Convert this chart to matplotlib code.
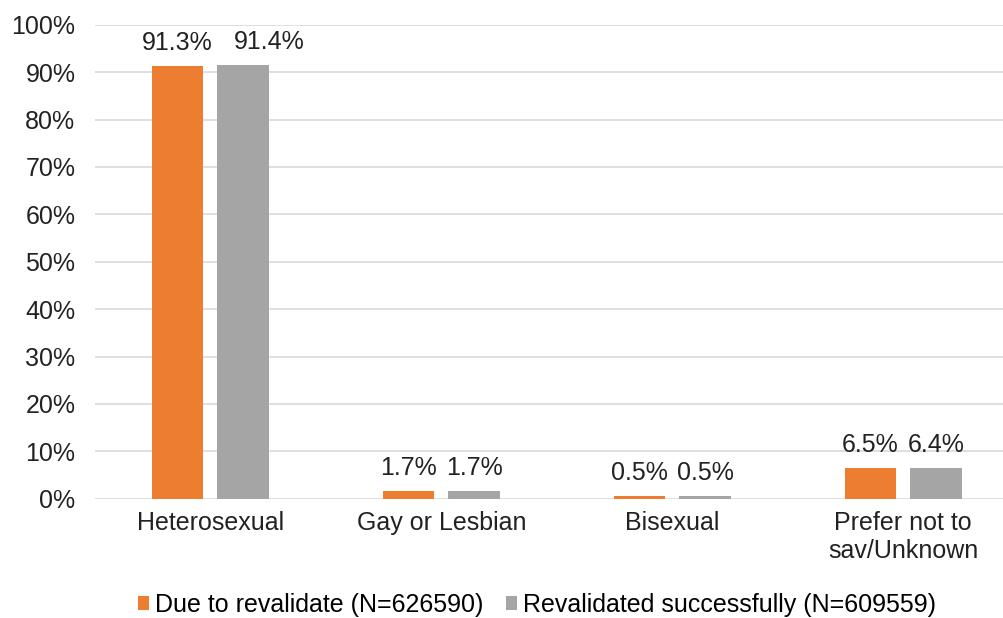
import matplotlib.pyplot as plt
import numpy as np

plt.rcParams['font.family'] = ['Liberation Sans', 'DejaVu Sans']

categories = ['Heterosexual', 'Gay or Lesbian', 'Bisexual', 'Prefer not to\nsav/Unknown']
due = [91.3, 1.7, 0.5, 6.5]
revalidated = [91.4, 1.7, 0.5, 6.4]
series_names = ['Due to revalidate (N=626590)', 'Revalidated successfully (N=609559)']
yticks = [0, 10, 20, 30, 40, 50, 60, 70, 80, 90, 100]

orange = '#ED7D31'
grey = '#A5A5A5'
fs = 18

fig = plt.figure(figsize=(10.04, 6.18), dpi=100)
ax = fig.add_axes([0.0945, 0.193, 0.92, 0.767])

x = np.arange(len(categories))
w = 0.222
gap = 0.062
b1 = ax.bar(x - (w + gap) / 2, due, w, color=orange, label=series_names[0], zorder=3)
b2 = ax.bar(x + (w + gap) / 2, revalidated, w, color=grey, label=series_names[1], zorder=3)

# excel nudged the tall grey label right so the two don't collide
for bars, vals, nudge in [(b1, due, [0, 0, 0, 0]), (b2, revalidated, [19, 0, 0, 0])]:
    for rect, v, dx in zip(bars, vals, nudge):
        ax.annotate(f'{v}%', (rect.get_x() + rect.get_width() / 2, v),
                    xytext=(dx, 8), textcoords='offset points',
                    ha='center', va='bottom', fontsize=fs, color='#222222')

ax.set_ylim(0, 100)
ax.set_xlim(-0.5, len(categories) - 0.5)
ax.set_yticks(yticks)
ax.set_yticklabels([f'{t}%' for t in yticks], fontsize=fs)
ax.set_xticks(x)
ax.set_xticklabels(categories, fontsize=fs)
ax.tick_params(axis='y', length=0, pad=14, colors='#222222')
ax.tick_params(axis='x', length=0, pad=9, colors='#222222')
ax.grid(axis='y', color='#D9D9D9', linewidth=1.2, zorder=0)
for s in ax.spines.values():
    s.set_visible(False)

fig.legend(handles=[b1, b2], loc='center', bbox_to_anchor=(537 / 1004, 1 - 605 / 618),
           ncol=2, frameon=False, fontsize=fs, handlelength=0.45, handleheight=0.45,
           handletextpad=0.25, columnspacing=0.9)

fig.savefig('out.png', dpi=100)
